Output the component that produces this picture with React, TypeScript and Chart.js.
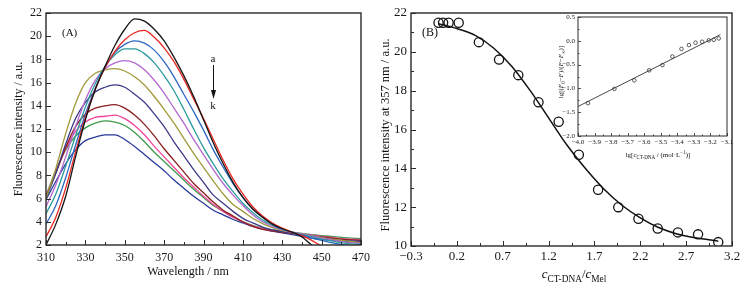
import React, { useEffect, useRef } from "react";
import { Chart, registerables } from "chart.js";
Chart.register(...registerables);

const SERIF = '"Liberation Serif", "Times New Roman", serif';

// ---------- Panel A: emission spectra ----------
const WAVELENGTHS = [310, 315, 320, 325, 330, 335, 340, 345, 350, 355, 360, 365, 370, 375, 380, 385, 390, 395, 400, 405, 410, 415, 420, 425, 430, 435, 440, 445, 450, 455, 460, 465, 470];
const SPEC_A = [2.0, 3.8, 6.2, 9.6, 12.8, 15.4, 17.4, 19.2, 20.6, 21.5, 21.3, 20.6, 19.6, 18.2, 16.6, 14.8, 12.8, 10.8, 9.0, 7.4, 6.1, 5.1, 4.4, 3.8, 3.4, 3.1, 2.7, 2.0, 1.5, 1.1, 0.8, 0.6, 0.5];
const SPEC_B = [2.7, 4.4, 6.9, 10.0, 13.0, 15.4, 17.3, 18.7, 19.7, 20.3, 20.5, 19.9, 19.0, 17.8, 16.3, 14.6, 12.9, 11.1, 9.3, 7.7, 6.4, 5.3, 4.5, 3.9, 3.45, 3.1, 2.8, 2.4, 1.9, 1.5, 1.2, 1.0, 0.9];
const SPEC_C = [3.8, 5.4, 7.8, 10.6, 13.3, 15.5, 17.3, 18.6, 19.3, 19.6, 19.4, 18.8, 17.8, 16.5, 15.0, 13.5, 11.9, 10.2, 8.7, 7.3, 6.1, 5.1, 4.4, 3.8, 3.4, 3.1, 2.85, 2.6, 2.4, 2.2, 2.05, 1.95, 1.9];
const SPEC_D = [4.7, 6.4, 8.8, 11.4, 13.9, 15.9, 17.4, 18.4, 18.9, 18.9, 18.5, 17.7, 16.6, 15.3, 13.7, 12.0, 10.4, 9.0, 7.7, 6.6, 5.6, 4.8, 4.15, 3.7, 3.35, 3.1, 2.9, 2.7, 2.5, 2.35, 2.2, 2.1, 2.05];
const SPEC_E = [5.3, 7.2, 9.6, 12.2, 14.5, 16.2, 17.2, 17.7, 17.9, 17.7, 17.1, 16.2, 15.1, 13.8, 12.5, 11.1, 9.8, 8.5, 7.3, 6.3, 5.4, 4.6, 4.0, 3.6, 3.3, 3.1, 2.95, 2.8, 2.6, 2.45, 2.3, 2.2, 2.15];
const SPEC_F = [6.0, 8.6, 11.6, 14.2, 16.0, 16.8, 17.1, 17.2, 17.0, 16.5, 15.8, 14.8, 13.7, 12.5, 11.2, 9.9, 8.7, 7.5, 6.4, 5.5, 4.9, 4.3, 3.85, 3.5, 3.25, 3.1, 2.95, 2.8, 2.65, 2.5, 2.4, 2.3, 2.2];
const SPEC_G = [6.0, 8.2, 10.7, 12.9, 14.3, 15.2, 15.6, 15.8, 15.6, 15.0, 14.3, 13.3, 12.2, 10.9, 9.7, 8.5, 7.4, 6.3, 5.6, 4.9, 4.3, 3.9, 3.55, 3.3, 3.15, 3.05, 2.9, 2.8, 2.65, 2.5, 2.4, 2.35, 2.3];
const SPEC_H = [6.1, 8.2, 10.4, 12.2, 13.3, 13.8, 14.0, 14.1, 13.8, 13.2, 12.4, 11.4, 10.3, 9.3, 8.3, 7.3, 6.5, 5.7, 5.0, 4.5, 4.0, 3.6, 3.35, 3.2, 3.1, 3.0, 2.9, 2.8, 2.7, 2.6, 2.5, 2.45, 2.4];
const SPEC_I = [6.2, 8.3, 10.3, 11.8, 12.6, 13.0, 13.1, 13.2, 12.9, 12.3, 11.5, 10.5, 9.6, 8.7, 7.8, 7.0, 6.2, 5.5, 4.9, 4.4, 4.0, 3.65, 3.4, 3.25, 3.15, 3.05, 2.95, 2.85, 2.75, 2.65, 2.55, 2.5, 2.45];
const SPEC_J = [6.3, 8.4, 10.2, 11.4, 12.1, 12.5, 12.7, 12.6, 12.3, 11.7, 10.9, 10.0, 9.2, 8.4, 7.6, 6.8, 6.1, 5.4, 4.9, 4.4, 4.0, 3.7, 3.45, 3.3, 3.2, 3.1, 3.0, 2.9, 2.8, 2.75, 2.65, 2.6, 2.55];
const SPEC_K = [5.9, 7.5, 9.0, 10.2, 11.0, 11.3, 11.5, 11.5, 11.1, 10.5, 9.8, 9.1, 8.4, 7.6, 6.9, 6.2, 5.6, 5.0, 4.6, 4.2, 3.9, 3.6, 3.4, 3.2, 3.05, 2.9, 2.75, 2.6, 2.5, 2.4, 2.35, 2.3, 2.25];
const SPEC_COLORS = ["#151515", "#e8261f", "#2c67c2", "#2b9a9c", "#b468cf", "#a09a3a", "#3b3a86", "#8a1f1f", "#f0449a", "#3f9a4c", "#28399a"];
const A_X_TICKS = [310, 330, 350, 370, 390, 410, 430, 450, 470];
const A_X_MINOR = [320, 340, 360, 380, 400, 420, 440, 460];
const A_Y_TICKS = [2, 4, 6, 8, 10, 12, 14, 16, 18, 20, 22];

// ---------- Panel B: intensity at 357 nm ----------
const RATIO = [0.0, 0.05, 0.11, 0.22, 0.44, 0.66, 0.87, 1.09, 1.31, 1.53, 1.74, 1.96, 2.18, 2.39, 2.61, 2.83, 3.05];
const INTENSITY = [21.5, 21.5, 21.5, 21.5, 20.5, 19.6, 18.8, 17.4, 16.4, 14.7, 12.9, 12.0, 11.4, 10.9, 10.7, 10.6, 10.2];
const FIT_RATIO = [0.0, 0.2, 0.4, 0.6, 0.8, 1.0, 1.2, 1.4, 1.6, 1.8, 2.0, 2.2, 2.4, 2.6, 2.8, 3.05];
const FIT_INTENSITY = [21.45, 21.2, 20.85, 20.2, 19.25, 18.0, 16.6, 15.2, 14.0, 12.95, 12.1, 11.45, 10.95, 10.62, 10.42, 10.25];
const B_X_TICKS = [-0.3, 0.2, 0.7, 1.2, 1.7, 2.2, 2.7, 3.2];
const B_X_MINOR = [-0.05, 0.45, 0.95, 1.45, 1.95, 2.45, 2.95];
const B_Y_TICKS = [10, 12, 14, 16, 18, 20, 22];
const B_Y_MINOR = [11, 13, 15, 17, 19, 21];

// ---------- Inset: double-log plot ----------
const LG_C = [-3.94, -3.78, -3.66, -3.57, -3.49, -3.43, -3.375, -3.33, -3.29, -3.25, -3.21, -3.18, -3.15];
const LG_F = [-1.31, -1.01, -0.83, -0.62, -0.51, -0.33, -0.17, -0.09, -0.04, -0.02, 0.01, 0.02, 0.05];
const LG_FIT_C = [-4.0, -3.14];
const LG_FIT_F = [-1.38, 0.13];
const IN_X_TICKS = [-4.0, -3.9, -3.8, -3.7, -3.6, -3.5, -3.4, -3.3, -3.2, -3.1];
const IN_X_MINOR = [-3.95, -3.85, -3.75, -3.65, -3.55, -3.45, -3.35, -3.25, -3.15];
const IN_Y_TICKS = [-2.0, -1.5, -1.0, -0.5, 0.0, 0.5];
const IN_Y_MINOR = [-1.75, -1.25, -0.75, -0.25, 0.25];

type Part = { t: string; it?: boolean; sub?: boolean; sup?: boolean };

function fontOf(p: Part, size: number) {
  const s = p.sub || p.sup ? size * 0.72 : size;
  return `${p.it ? "italic " : ""}${s}px ${SERIF}`;
}

function drawRich(ctx: CanvasRenderingContext2D, parts: Part[], x: number, y: number, size: number, rotate = 0) {
  ctx.save();
  ctx.translate(x, y);
  if (rotate) ctx.rotate(rotate);
  let w = 0;
  for (const p of parts) {
    ctx.font = fontOf(p, size);
    w += ctx.measureText(p.t).width;
  }
  let cx = -w / 2;
  ctx.textAlign = "left";
  ctx.textBaseline = "alphabetic";
  ctx.fillStyle = "#111";
  for (const p of parts) {
    ctx.font = fontOf(p, size);
    const dy = p.sub ? size * 0.28 : p.sup ? -size * 0.4 : 0;
    ctx.fillText(p.t, cx, dy);
    cx += ctx.measureText(p.t).width;
  }
  ctx.restore();
}

function signed(v: number, d: number) {
  const s = Math.abs(v).toFixed(d);
  return v < -1e-9 ? "\u2212" + s : s;
}

function scaleOpts(min: number, max: number, ticks: number[], fmt: (v: number) => string, size: number, padding: number, fixed: number, axis: "x" | "y") {
  return {
    type: "linear",
    min,
    max,
    grid: { display: false, drawTicks: false },
    border: { display: false },
    ticks: {
      font: { family: SERIF, size },
      color: "#1a1a1a",
      padding,
      autoSkip: false,
      maxRotation: 0,
      minRotation: 0,
      callback: (v: number) => fmt(v),
    },
    afterBuildTicks: (s: any) => {
      s.ticks = ticks.map((v) => ({ value: v }));
    },
    afterFit: (s: any) => {
      if (axis === "y") s.width = fixed;
      else s.height = fixed;
    },
  };
}

function decoPlugin(cfg: {
  xMajor: number[]; xMinor: number[]; yMajor: number[]; yMinor: number[];
  major: number; minor: number; frame: number; tick: number; white?: boolean;
  texts?: (ctx: CanvasRenderingContext2D, chart: any) => void;
}) {
  return {
    id: "deco",
    beforeDatasetsDraw(chart: any) {
      if (!cfg.white) return;
      const a = chart.chartArea;
      const ctx = chart.ctx;
      ctx.save();
      ctx.fillStyle = "#ffffff";
      ctx.fillRect(a.left, a.top, a.right - a.left, a.bottom - a.top);
      ctx.restore();
    },
    afterDatasetsDraw(chart: any) {
      const { ctx, chartArea: a, scales } = chart;
      const xs = scales.x;
      const ys = scales.y;
      ctx.save();
      ctx.strokeStyle = "#2a2a2a";
      ctx.lineWidth = cfg.tick;
      ctx.beginPath();
      const xt = (vals: number[], len: number) => {
        for (const v of vals) {
          const p = Math.round(xs.getPixelForValue(v)) + 0.5;
          ctx.moveTo(p, a.bottom);
          ctx.lineTo(p, a.bottom - len);
        }
      };
      const yt = (vals: number[], len: number) => {
        for (const v of vals) {
          const p = Math.round(ys.getPixelForValue(v)) + 0.5;
          ctx.moveTo(a.left, p);
          ctx.lineTo(a.left + len, p);
        }
      };
      xt(cfg.xMajor, cfg.major);
      xt(cfg.xMinor, cfg.minor);
      yt(cfg.yMajor, cfg.major);
      yt(cfg.yMinor, cfg.minor);
      ctx.stroke();
      ctx.lineWidth = cfg.frame;
      ctx.strokeRect(a.left, a.top, a.right - a.left, a.bottom - a.top);
      ctx.restore();
      if (cfg.texts) cfg.texts(ctx, chart);
    },
  };
}

const baseOpts = (padding: any) => ({
  animation: false,
  responsive: false,
  maintainAspectRatio: false,
  devicePixelRatio: 1,
  layout: { padding },
  plugins: { legend: { display: false }, tooltip: { enabled: false } },
  events: [],
});

export default function App() {
  const refA = useRef<HTMLCanvasElement>(null);
  const refB = useRef<HTMLCanvasElement>(null);
  const refI = useRef<HTMLCanvasElement>(null);

  useEffect(() => {
    Chart.defaults.font.family = SERIF;
    const specs = [SPEC_A, SPEC_B, SPEC_C, SPEC_D, SPEC_E, SPEC_F, SPEC_G, SPEC_H, SPEC_I, SPEC_J, SPEC_K];
    const chartA = new Chart(refA.current!, {
      type: "line",
      data: {
        datasets: specs.map((s, i) => ({
          data: WAVELENGTHS.map((w, j) => ({ x: w, y: s[j] })),
          borderColor: SPEC_COLORS[i],
          borderWidth: 1.3,
          pointRadius: 0,
          cubicInterpolationMode: "monotone",
          fill: false,
        })),
      },
      options: {
        ...baseOpts({ left: 0, top: 13, right: 13, bottom: 0 }),
        scales: {
          x: scaleOpts(310, 470, A_X_TICKS, (v) => String(v), 12, 6, 44, "x"),
          y: scaleOpts(2, 22, A_Y_TICKS, (v) => String(v), 12, 4, 46, "y"),
        },
      } as any,
      plugins: [
        decoPlugin({
          xMajor: A_X_TICKS, xMinor: A_X_MINOR, yMajor: A_Y_TICKS, yMinor: [],
          major: 5, minor: 3, frame: 1.4, tick: 1,
          texts: (ctx) => {
            ctx.save();
            ctx.fillStyle = "#111";
            ctx.font = `11px ${SERIF}`;
            ctx.textBaseline = "middle";
            ctx.textAlign = "left";
            ctx.fillText("(A)", 62, 33);
            ctx.textAlign = "center";
            ctx.fillText("a", 213, 59);
            ctx.fillText("k", 213, 106);
            ctx.strokeStyle = "#111";
            ctx.lineWidth = 1;
            ctx.beginPath();
            ctx.moveTo(213.5, 65);
            ctx.lineTo(213.5, 92);
            ctx.stroke();
            ctx.beginPath();
            ctx.moveTo(211, 90);
            ctx.lineTo(216, 90);
            ctx.lineTo(213.5, 99);
            ctx.closePath();
            ctx.fill();
            ctx.restore();
            drawRich(ctx, [{ t: "Wavelength / nm" }], 188, 275, 12);
            drawRich(ctx, [{ t: "Fluorescence intensity / a.u." }], 22, 129, 12, -Math.PI / 2);
          },
        }),
      ],
    });

    const chartB = new Chart(refB.current!, {
      type: "line",
      data: {
        datasets: [
          {
            data: FIT_RATIO.map((x, j) => ({ x, y: FIT_INTENSITY[j] })),
            borderColor: "#111",
            borderWidth: 1.5,
            pointRadius: 0,
            cubicInterpolationMode: "monotone",
            fill: false,
          },
          {
            data: RATIO.map((x, j) => ({ x, y: INTENSITY[j] })),
            showLine: false,
            pointRadius: 4.6,
            pointBorderWidth: 1.3,
            pointBorderColor: "#111",
            pointBackgroundColor: "rgba(0,0,0,0)",
          },
        ],
      },
      options: {
        ...baseOpts({ left: 0, top: 13, right: 19, bottom: 0 }),
        scales: {
          x: scaleOpts(-0.3, 3.2, B_X_TICKS, (v) => signed(v, 1), 13, 3, 43, "x"),
          y: scaleOpts(10, 22, B_Y_TICKS, (v) => String(v), 13, 4, 35, "y"),
        },
      } as any,
      plugins: [
        decoPlugin({
          xMajor: B_X_TICKS, xMinor: B_X_MINOR, yMajor: B_Y_TICKS, yMinor: B_Y_MINOR,
          major: 5, minor: 3, frame: 1.4, tick: 1,
          texts: (ctx) => {
            ctx.save();
            ctx.fillStyle = "#111";
            ctx.font = `12px ${SERIF}`;
            ctx.textBaseline = "middle";
            ctx.textAlign = "left";
            ctx.fillText("(B)", 46, 33);
            ctx.restore();
            drawRich(ctx, [{ t: "c", it: true }, { t: "CT-DNA", sub: true }, { t: "/" }, { t: "c", it: true }, { t: "Mel", sub: true }], 198, 278, 13);
            drawRich(ctx, [{ t: "Fluorescence intensity at 357 nm / a.u." }], 13, 135, 12.5, -Math.PI / 2);
          },
        }),
      ],
    });

    const chartI = new Chart(refI.current!, {
      type: "line",
      data: {
        datasets: [
          {
            data: LG_FIT_C.map((x, j) => ({ x, y: LG_FIT_F[j] })),
            borderColor: "#333",
            borderWidth: 0.9,
            pointRadius: 0,
            fill: false,
          },
          {
            data: LG_C.map((x, j) => ({ x, y: LG_F[j] })),
            showLine: false,
            pointRadius: 1.8,
            pointBorderWidth: 0.8,
            pointBorderColor: "#333",
            pointBackgroundColor: "rgba(0,0,0,0)",
          },
        ],
      },
      options: {
        ...baseOpts({ left: 0, top: 13, right: 11, bottom: 0 }),
        scales: {
          x: scaleOpts(-4.0, -3.1, IN_X_TICKS, (v) => signed(v, 1), 7, 2, 30, "x"),
          y: scaleOpts(-2.0, 0.5, IN_Y_TICKS, (v) => signed(v, 1), 7, 3, 30, "y"),
        },
      } as any,
      plugins: [
        decoPlugin({
          xMajor: IN_X_TICKS, xMinor: IN_X_MINOR, yMajor: IN_Y_TICKS, yMinor: IN_Y_MINOR,
          major: 3, minor: 1.5, frame: 1, tick: 0.8, white: true,
          texts: (ctx) => {
            drawRich(ctx, [{ t: "lg[" }, { t: "c", it: true }, { t: "CT-DNA", sub: true }, { t: " / (mol\u00b7L" }, { t: "\u22121", sup: true }, { t: ")]" }], 110, 153, 7);
            drawRich(ctx, [{ t: "lg[(" }, { t: "F", it: true }, { t: "0", sub: true }, { t: "\u2212" }, { t: "F", it: true }, { t: ")/(" }, { t: "F", it: true }, { t: "\u2212" }, { t: "F", it: true }, { t: "\u221e", sub: true }, { t: ")]" }], 15, 68, 7, -Math.PI / 2);
          },
        }),
      ],
    });

    return () => {
      chartA.destroy();
      chartB.destroy();
      chartI.destroy();
    };
  }, []);

  return (
    <div style={{ position: "absolute", left: 0, top: 0, width: 751, height: 289, background: "#fff", overflow: "hidden" }}>
      <canvas ref={refA} width={376} height={289} style={{ position: "absolute", left: 0, top: 0, width: 376, height: 289 }} />
      <canvas ref={refB} width={375} height={289} style={{ position: "absolute", left: 376, top: 0, width: 375, height: 289 }} />
      <canvas ref={refI} width={190} height={162} style={{ position: "absolute", left: 548, top: 4, width: 190, height: 162 }} />
    </div>
  );
}
